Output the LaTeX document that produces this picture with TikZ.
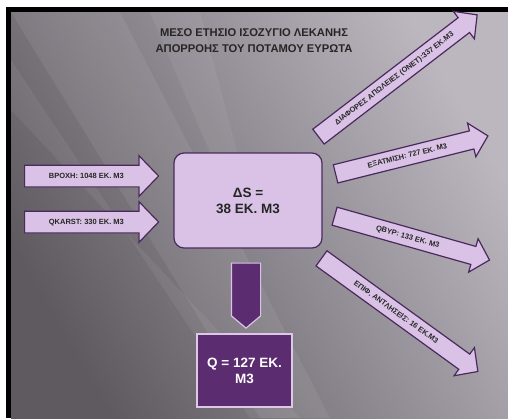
\documentclass[tikz,border=0pt]{standalone}
\usepackage{fontspec}
\setmainfont{Liberation Sans}
\usepackage{xcolor}
\usetikzlibrary{shapes,arrows,positioning}

\definecolor{lilac}{HTML}{D9C2E6}
\definecolor{plum}{HTML}{4A2A5C}
\definecolor{deepplum}{HTML}{5B2C70}
\definecolor{slidelight}{HTML}{BCB7BF}
\definecolor{slidedark}{HTML}{5E5A60}

\tikzset{
  flow/.style={single arrow, draw=plum, fill=lilac, line width=1.2pt,
    single arrow head extend=8pt, single arrow tip angle=92,
    text height=5.5pt, text depth=1pt, inner ysep=5.5pt, inner xsep=2pt,
    font=\fontsize{7.5}{8}\selectfont\bfseries, text=black!85},
  inflow/.style={flow, inner ysep=7pt, single arrow head extend=9.5pt, minimum height=134pt},
  outflow/.style={flow, anchor=tail},
  box/.style={rectangle, line width=1.2pt, align=center,
    font=\fontsize{13.5}{16}\selectfont\bfseries}
}

\begin{document}
\begin{tikzpicture}[x=1pt,y=-1pt]
\useasboundingbox (0,0) rectangle (508,418);
\fill[black] (6,7) rectangle (508,418);
\shade[shading=axis, left color=slidelight, right color=slidedark, shading angle=-60]
  (11,12) rectangle (508,418);
\fill[white, opacity=0.07] (11,12) -- (120,12) -- (330,418) -- (260,418) -- cycle;
\fill[white, opacity=0.06] (11,60) -- (11,110) -- (300,418) -- (250,418) -- cycle;
\fill[white, opacity=0.06] (150,12) -- (200,12) -- (250,200) -- (230,200) -- cycle;

\node[font=\fontsize{11.2}{16}\selectfont\bfseries, text=black!85, align=center] (title) at (254,41)
  {ΜΕΣΟ ΕΤΗΣΙΟ ΙΣΟΖΥΓΙΟ ΛΕΚΑΝΗΣ\\ΑΠΟΡΡΟΗΣ ΤΟΥ ΠΟΤΑΜΟΥ ΕΥΡΩΤΑ};

\node[inflow, anchor=tail] (rain) at (24,176) {ΒΡΟΧΗ: 1048 ΕΚ. Μ3};
\node[inflow, anchor=tail] (karst) at (24,222) {QKARST: 330 EK. M3};

\node[box, draw=plum, fill=lilac, rounded corners=10pt, minimum width=148pt,
  minimum height=95pt, text=black!85] (storage) at (248,200.5) {ΔS =\\38 ΕΚ. Μ3};

\node[single arrow, draw=lilac, fill=deepplum, line width=1.2pt, rotate=-90,
  single arrow head extend=0pt, single arrow tip angle=100, inner xsep=0pt,
  inner ysep=14pt, minimum height=65pt] (drop) at (246,289.5) {};

\node[box, draw=lilac!90!white, fill=deepplum, minimum width=95pt, minimum height=73pt,
  text=white] (discharge) at (244.5,370.5) {Q = 127 ΕΚ.\\Μ3};

\node[outflow, rotate=37.5, minimum height=200pt] (losses) at (318,137)
  {ΔΙΑΦΟΡΕΣ ΑΠΩΛΕΙΕΣ (ΟΝΕΤ):337 ΕΚ.Μ3};
\node[outflow, rotate=14, minimum height=157pt] (evap) at (335,174)
  {ΕΞΑΤΜΙΣΗ: 727 ΕΚ. Μ3};
\node[outflow, rotate=-15.8, minimum height=161pt] (qbyp) at (334,216)
  {QΒΥΡ: 133 ΕΚ. Μ3};
\node[outflow, rotate=-35.9, minimum height=193pt] (pumping) at (321,258)
  {ΕΠΙΦ. ΑΝΤΛΗΣΕΙΣ: 16 ΕΚ.Μ3};
\end{tikzpicture}
\end{document}
